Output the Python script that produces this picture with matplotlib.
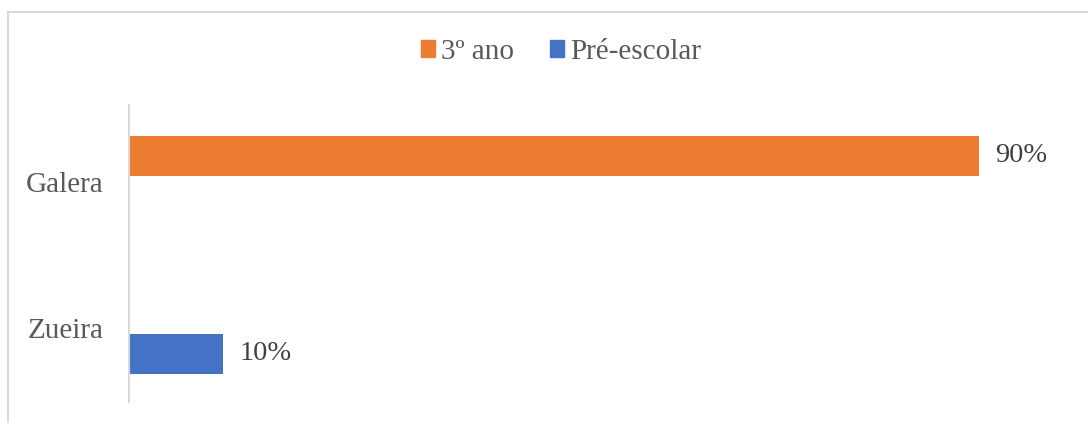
import matplotlib.pyplot as plt
from matplotlib.lines import Line2D

categories = ["Zueira", "Galera"]
series_names = ["3º ano", "Pré-escolar"]
values_3ano = [0.0, 0.90]
values_pre = [0.10, 0.0]
colors = ["#ED7D31", "#4472C4"]

plt.rcParams["font.family"] = ["Liberation Serif", "DejaVu Serif"]

W, H = 1088, 423
fig = plt.figure(figsize=(W / 100, H / 100), dpi=100)
ax = fig.add_axes([128.5 / W, 1 - 402 / H, (1073.5 - 128.5) / W, (402 - 105) / H])

ypos = [0, 1]
offset = 0.178
height = 0.274

for i, (v3, vp) in enumerate(zip(values_3ano, values_pre)):
    if v3 > 0:
        ax.barh(ypos[i] + offset, v3, height=height, color=colors[0])
        ax.text(v3 + 0.017, ypos[i] + offset, f"{v3:.0%}", va="center", ha="left",
                fontsize=20.5, color="#404040")
    if vp > 0:
        ax.barh(ypos[i] - offset, vp, height=height, color=colors[1])
        ax.text(vp + 0.017, ypos[i] - offset, f"{vp:.0%}", va="center", ha="left",
                fontsize=20.5, color="#404040")

ax.set_xlim(0, 1)
ax.set_ylim(-0.507, 1.527)
ax.set_yticks(ypos)
ax.set_yticklabels(categories, fontsize=21, color="#595959")
ax.tick_params(axis="y", length=0, pad=18)
ax.set_xticks([])
for s in ["top", "right", "bottom"]:
    ax.spines[s].set_visible(False)
ax.spines["left"].set_color("#D9D9D9")
ax.spines["left"].set_linewidth(1.5)

# chart frame (only top and left edges visible)
fig.add_artist(Line2D([8 / W, 1], [1 - 12 / H, 1 - 12 / H], color="#D9D9D9", lw=1.5))
fig.add_artist(Line2D([8 / W, 8 / W], [0, 1 - 12 / H], color="#D9D9D9", lw=1.5))

handles = [plt.Rectangle((0, 0), 1, 1, color=c) for c in colors]
fig.legend(handles, series_names, loc="center", bbox_to_anchor=(561 / W, 1 - 52 / H),
           ncol=2, frameon=False, fontsize=21, labelcolor="#595959",
           handlelength=0.5, handleheight=0.5, handletextpad=0.2, columnspacing=1.22)

fig.savefig("out.png", dpi=100)
